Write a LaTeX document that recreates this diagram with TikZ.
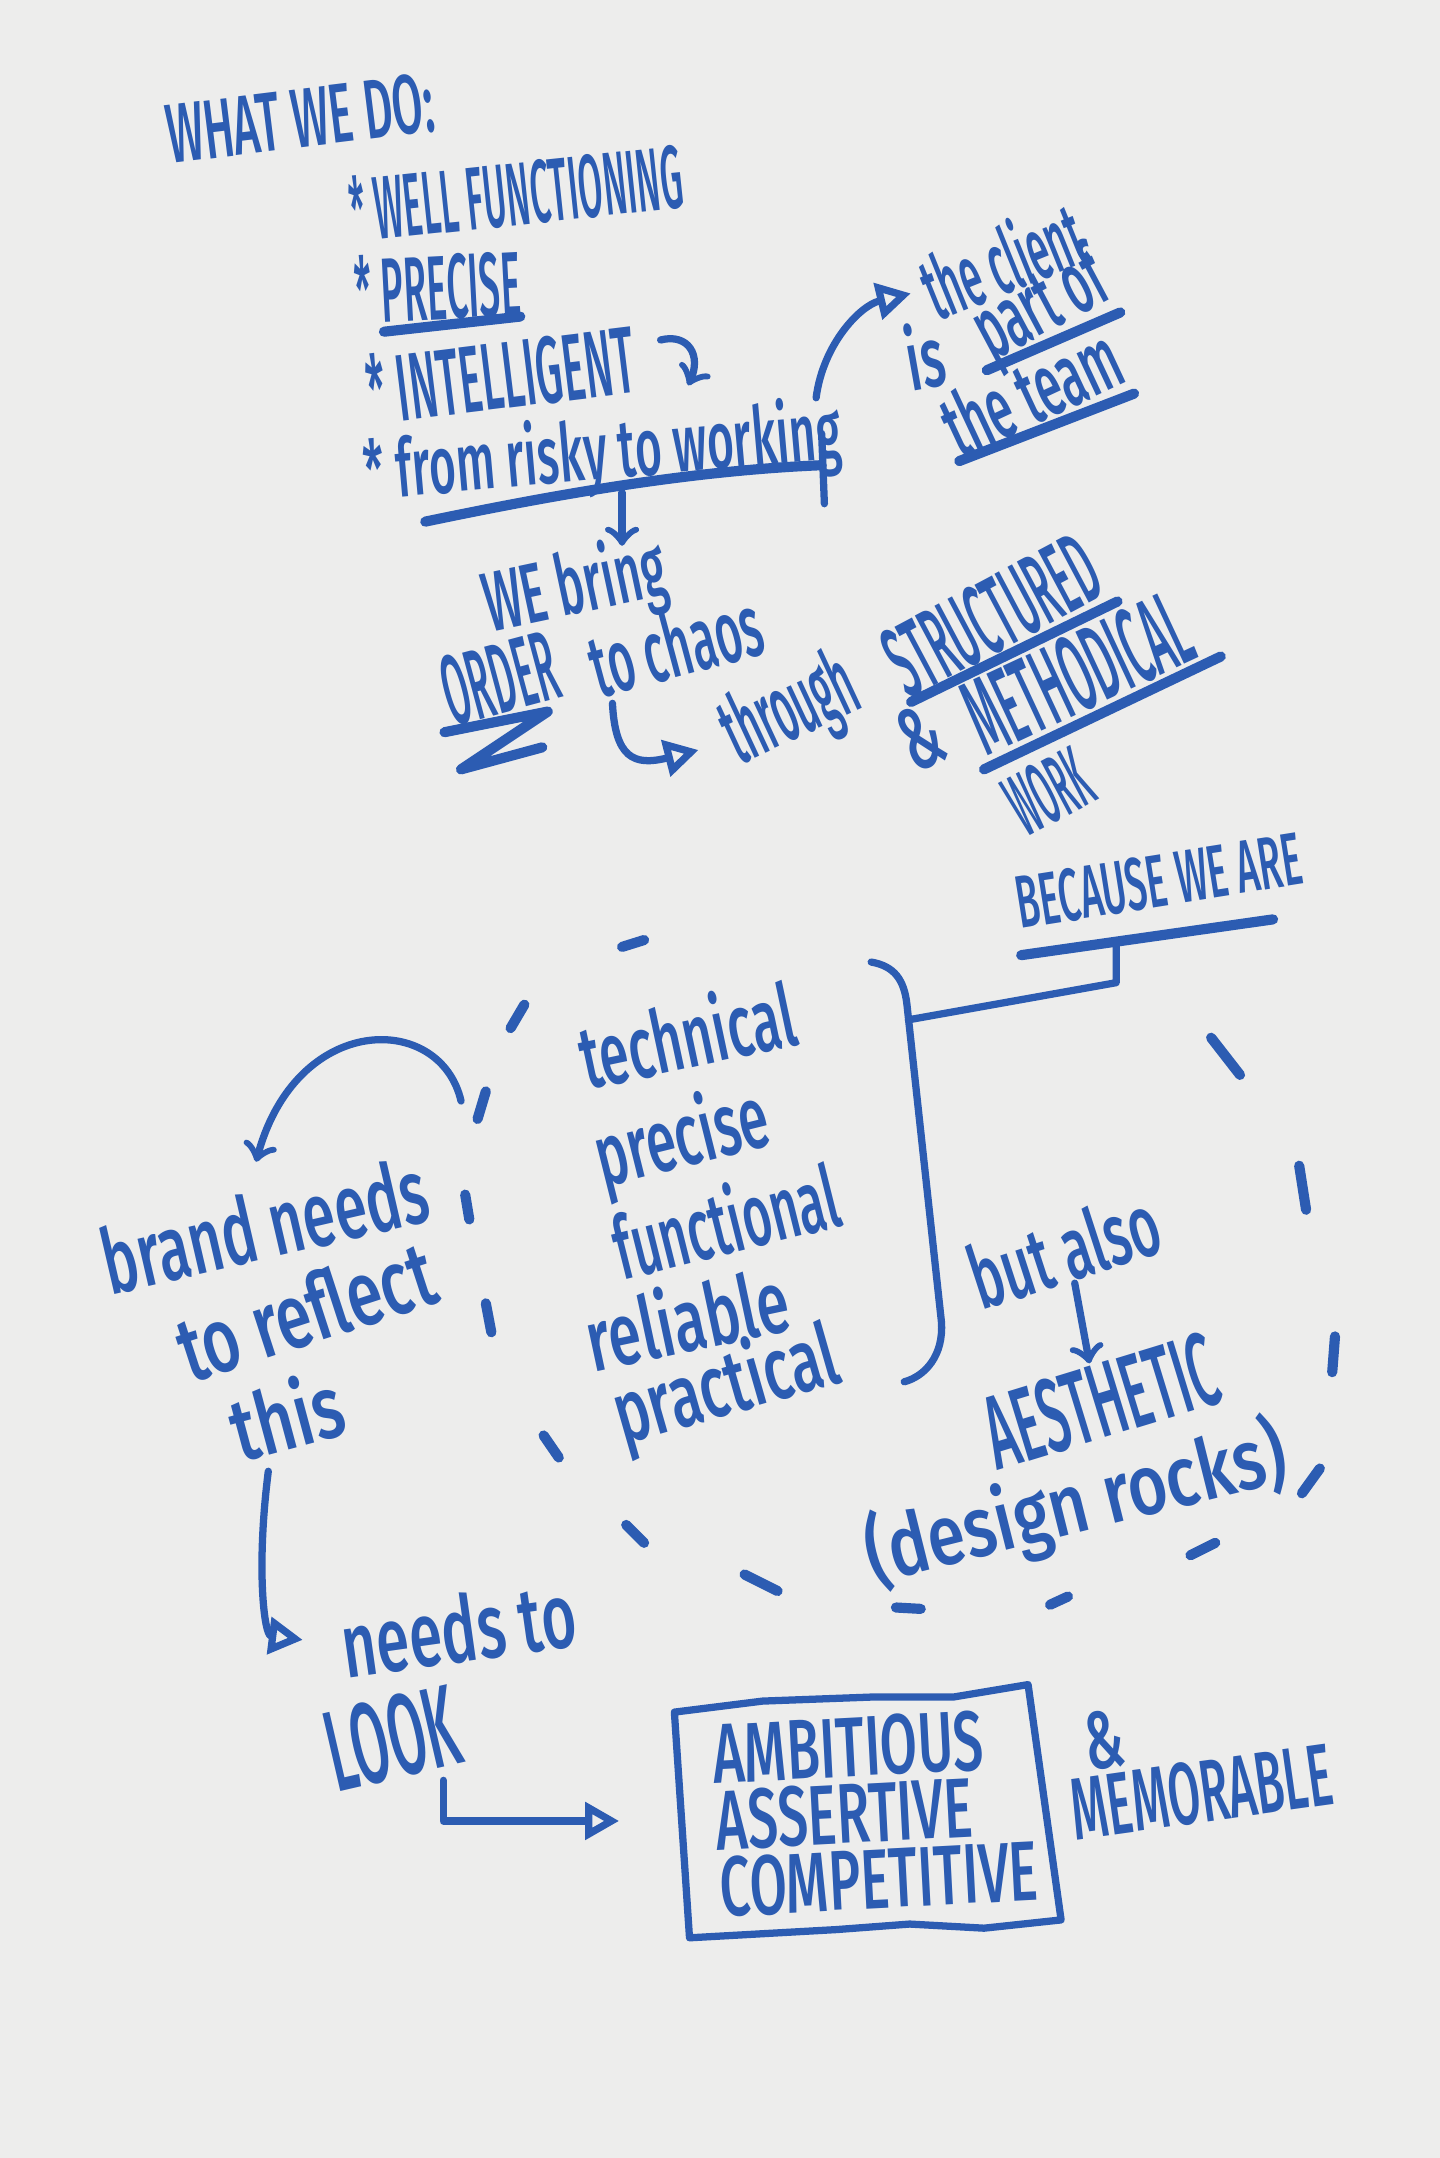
\documentclass[tikz,border=0pt]{standalone}
\usepackage{fontspec}
\IfFontExistsTF{Fira Sans Medium}{\setmainfont{Fira Sans Medium}}{\setmainfont{Fira Sans}}
\usepackage{tikz}
\usetikzlibrary{positioning,arrows.meta,calc}
\usepackage{xcolor}
\definecolor{ink}{HTML}{2C5CB2}
\definecolor{paper}{HTML}{EDEDEC}
\newcommand{\handfont}{\fontsize{14}{11}\selectfont}
\tikzstyle{hand} = [text=ink, inner sep=0pt, font=\handfont, align=left]
\tikzstyle{line} = [draw, ink, line width=1.5pt, line cap=round, line join=round]
\tikzstyle{uline} = [line, line width=2.1pt]
\tikzstyle{arrv} = [line, -to]
\tikzstyle{arrt} = [line, -{Triangle[open, length=7pt, width=7.5pt]}]

\begin{document}
\begin{tikzpicture}[x=0.01cm, y=-0.01cm]
  \fill[paper] (0,0) rectangle (1046,1568);
  \useasboundingbox (0,0) rectangle (1046,1568);
  %% heading
  \node[hand, rotate=7, xscale=.66, yscale=1.24] (what) at (218,86) {WHAT WE DO:};
  %% what we do list
  \node[hand, rotate=6, xscale=.52, yscale=1.32] (well) at (375,140) {* WELL FUNCTIONING};
  \node[hand, rotate=3, xscale=.56, yscale=1.35] (prec) at (318,208) {* PRECISE};
  \node[hand, rotate=7, xscale=.62, yscale=1.4] (intel) at (364,272) {* INTELLIGENT};
  \node[hand, rotate=5, xscale=.68, yscale=1.2] (risky) at (438,331) {* from risky to working};
  %% client
  \node[hand, rotate=22, xscale=.57, yscale=1.3] (client) at (728,188) {the client};
  \node[hand, rotate=10, xscale=.75, yscale=1.25] (is) at (672,258) {is};
  \node[hand, rotate=28, xscale=.66, yscale=1.3] (part) at (757,224) {part of};
  \node[hand, rotate=25, xscale=.68, yscale=1.3] (team) at (749,284) {the team};
  %% order
  \node[hand, rotate=12, xscale=.68, yscale=1.25] (bring) at (418,428) {WE bring};
  \node[hand, rotate=15, xscale=.55, yscale=1.47] (order) at (363,493) {ORDER};
  \node[hand, rotate=15, xscale=.67, yscale=1.3] (chaos) at (491,468) {to chaos};
  \node[hand, rotate=25, xscale=.57, yscale=1.4] (through) at (575,518) {through};
  \node[hand, rotate=28, xscale=.57, yscale=1.5] (struct) at (721,447) {STRUCTURED};
  \node[hand, rotate=25, xscale=.78, yscale=1.3] (amp) at (669,536) {\&};
  \node[hand, rotate=25, xscale=.6, yscale=1.6] (metho) at (783,489) {METHODICAL};
  \node[hand, rotate=28, xscale=.44, yscale=1.3] (work) at (762,575) {WORK};
  %% because
  \node[hand, rotate=9, xscale=.56, yscale=1.1] (because) at (842,640) {BECAUSE WE ARE};
  \node[hand, rotate=12, xscale=.78, yscale=1.3] (tech) at (499,751) {technical};
  \node[hand, rotate=14, xscale=.79, yscale=1.3] (precise) at (496,829) {precise};
  \node[hand, rotate=14, xscale=.73, yscale=1.3] (func) at (527,886) {functional};
  \node[hand, rotate=12, xscale=.87, yscale=1.3] (reli) at (499,957) {reliable};
  \node[hand, rotate=16, xscale=.86, yscale=1.3] (pract) at (528,1009) {practical};
  %% brand
  \node[hand, rotate=13, xscale=.86, yscale=1.35] (brand) at (192,890) {brand needs};
  \node[hand, rotate=18, xscale=.95, yscale=1.35] (reflect) at (222,952) {to reflect};
  \node[hand, rotate=15, xscale=.98, yscale=1.3] (this) at (208,1028) {this};
  %% aesthetic
  \node[hand, rotate=18, xscale=.78, yscale=1.3] (also) at (773,908) {but also};
  \node[hand, rotate=17, xscale=.74, yscale=1.55] (aesth) at (800,1018) {AESTHETIC};
  \node[hand, rotate=14, xscale=1, yscale=1.25] (rocks) at (782,1094) {(design rocks)};
  %% look
  \node[hand, rotate=8, xscale=.88, yscale=1.35] (needs) at (333,1183) {needs to};
  \node[hand, rotate=13, xscale=.8, yscale=1.7] (look) at (285,1263) {LOOK};
  \node[hand, rotate=3, xscale=.8, yscale=1.25] (traits) at (636,1317) {AMBITIOUS\\ASSERTIVE\\COMPETITIVE};
  \node[hand, rotate=8, xscale=.78, yscale=1.2] (amp2) at (802,1264) {\&};
  \node[hand, rotate=8, xscale=.69, yscale=1.3] (memo) at (873,1302) {MEMORABLE};
  %% underlines
  \path[uline] (279,241) -- (378,230);
  \path[uline] (309,379) .. controls (400,360) and (500,342) .. (597,338);
  \path[line] (597,315) -- (599,366);
  \path[uline] (717,269) -- (814,227);
  \path[uline] (697,335) -- (824,286);
  \path[uline] (323,532) -- (398,517) -- (335,559) -- (394,543);
  \path[uline] (662,510) -- (812,437);
  \path[uline] (715,559) -- (887,477);
  \path[uline] (742,694) -- (925,668);
  %% bracket
  \path[line] (633,699) .. controls (650,702) and (657,712) .. (659,730) -- (684,960) .. controls (686,985) and (672,1000) .. (657,1004);
  %% box
  \path[line] (490,1244) -- (554,1236) -- (635,1233) -- (693,1233) -- (747,1224) -- (771,1395) -- (715,1401) -- (661,1398) -- (608,1402) -- (501,1408) -- cycle;
  %% dashed oval
  \foreach \xa/\ya/\xb/\yb in {452/688/468/683, 371/747/381/730, 347/813/353/793, 338/868/341/886, 353/947/357/968, 395/1043/406/1059, 455/1108/468/1121, 541/1144/565/1156, 651/1168/669/1169, 763/1166/776/1160, 865/1130/883/1121, 946/1085/959/1067, 968/997/970/971, 949/879/944/847, 901/781/880/754}
    \path[uline] (\xa,\ya) -- (\xb,\yb);
  %% edges
  \coordinate (rkDown) at (452,358);
  \coordinate (rkUp) at (593,289);
  \coordinate (curl) at (480,247);
  \coordinate (hook) at (445,511);
  \coordinate (becJoin) at (811,686);
  \coordinate (brTop) at (660,741);
  \coordinate (listL) at (335,800);
  \path[arrv] (curl) .. controls (500,242) and (510,258) .. (500,280);
  \path[arrv] (rkDown) -- (rkDown |- bring.north);
  \path[arrt, shorten >=0.1cm] (rkUp) .. controls (598,250) and (625,222) .. (client.west);
  \path[arrt, shorten >=0.22cm] (hook) .. controls (447,550) and (460,557) .. (through.west);
  \path[line] (becJoin) -- ++(0,28) -- (brTop);
  \path[arrv] (listL) .. controls (320,735) and (215,735) .. ([yshift=0.2cm]brand.north);
  \path[arrt, shorten >=0.28cm] ([xshift=-0.2cm, yshift=-0.15cm]this.south) .. controls (186,1140) and (192,1188) .. (needs.west);
  \path[arrt, shorten >=0.7cm] ([xshift=0.3cm]look.south) |- (traits.west);
  \path[arrv] (also.south) -- (aesth.north);
\end{tikzpicture}
\end{document}
